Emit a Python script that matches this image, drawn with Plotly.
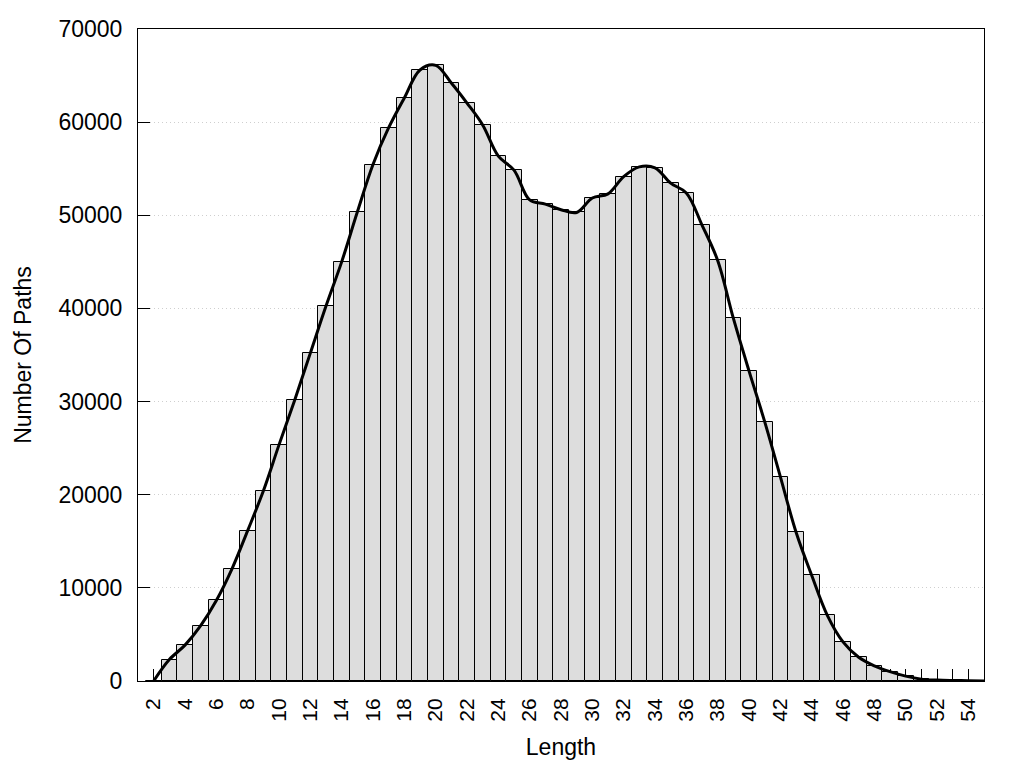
import plotly.graph_objects as go

lengths = list(range(2, 56))
counts = [0, 2300, 3850, 5950, 8650, 12050, 16150, 20400, 25350, 30150,
          35200, 40250, 45000, 50350, 55450, 59400, 62600, 65600, 66100, 64200,
          62050, 59700, 56350, 54850, 51650, 51200, 50600, 50300, 51850, 52300,
          54150, 55200, 55100, 53450, 52400, 48950, 45150, 38950, 33300, 27850,
          21950, 16000, 11350, 7050, 4200, 2550, 1630, 1000, 520, 200,
          100, 60, 40, 10]

x_title = "Length"
y_title = "Number Of Paths"

FONT = "Liberation Sans, Arial, sans-serif"

fig = go.Figure()
fig.add_trace(go.Bar(
    x=lengths, y=counts, width=1.0,
    marker=dict(color="#dddddd", line=dict(color="black", width=1)),
    showlegend=False, hoverinfo="x+y",
))
fig.add_trace(go.Scatter(
    x=lengths, y=counts, mode="lines",
    line=dict(color="black", width=3, shape="spline", smoothing=1.0),
    showlegend=False,
))

fig.update_layout(
    width=1024, height=768,
    margin=dict(l=130, r=48, t=21, b=95),
    paper_bgcolor="white", plot_bgcolor="white",
    font=dict(family=FONT, size=22, color="black"),
    bargap=0,
    xaxis=dict(
        range=[1, 55],
        automargin=False,
        tickmode="linear", tick0=2, dtick=2,
        tickangle=-90,
        ticks="inside", ticklen=12, tickcolor="black", tickwidth=1,
        minor=dict(tickmode="linear", tick0=0, dtick=1, ticks="inside",
                   ticklen=12, tickcolor="black", tickwidth=1),
        showline=True, linecolor="black", linewidth=1, mirror=True,
        showgrid=False, zeroline=False,
        layer="below traces",
        ticklabelstandoff=8,
        tickfont=dict(size=21),
        title=dict(text=x_title, font=dict(size=23), standoff=18),
    ),
    yaxis=dict(
        range=[0, 70000],
        automargin=False,
        tickmode="linear", tick0=0, dtick=10000, tickformat="d",
        ticks="inside", ticklen=12, tickcolor="black", tickwidth=1,
        showline=True, linecolor="black", linewidth=1, mirror=True,
        showgrid=True, gridcolor="#cfcfcf", griddash="1px,3px", gridwidth=1,
        zeroline=False,
        ticklabelstandoff=10,
        tickfont=dict(size=23),
        title=dict(text=y_title, font=dict(size=23), standoff=20),
    ),
)

fig.write_html("out.html")
